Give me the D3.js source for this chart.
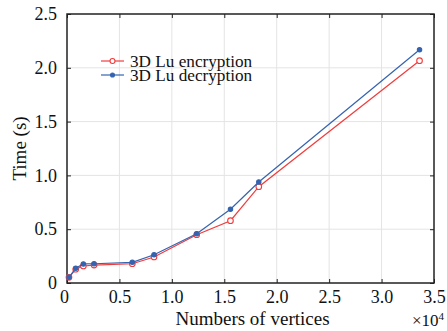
<!DOCTYPE html>
<html>
<head>
<meta charset="utf-8">
<script src="https://cdn.jsdelivr.net/npm/d3@7"></script>
<style>
  html, body { margin: 0; padding: 0; background: #fff; }
  svg { display: block; }
  text { font-family: "Liberation Serif", "Times New Roman", serif; fill: #111; }
</style>
</head>
<body>
<svg id="chart" width="447" height="331"></svg>
<script>
// Vertex counts (in units of 10^4) and timings in seconds
const vertices = [0.019, 0.083, 0.156, 0.258, 0.623, 0.830, 1.237, 1.559, 1.829, 3.362];
const encryptTime = [0.053, 0.128, 0.158, 0.167, 0.179, 0.242, 0.449, 0.579, 0.895, 2.066];
const decryptTime = [0.053, 0.137, 0.177, 0.179, 0.192, 0.263, 0.458, 0.685, 0.939, 2.168];
const xTicks = [0, 0.5, 1.0, 1.5, 2.0, 2.5, 3.0, 3.5];
const yTicks = [0, 0.5, 1.0, 1.5, 2.0, 2.5];
const seriesNames = ["3D Lu encryption", "3D Lu decryption"];

const svg = d3.select("#chart");
const m = { left: 67, right: 434, top: 14, bottom: 283 };

const x = d3.scaleLinear().domain([0, 3.5]).range([m.left, m.right]);
const y = d3.scaleLinear().domain([0, 2.5]).range([m.bottom, m.top]);

const fmt = d => d === 0 ? "0" : d3.format(".1f")(d);

// grid
const grid = svg.append("g");
grid.selectAll(".gx").data(xTicks.slice(1, -1)).join("line")
  .attr("x1", d => x(d)).attr("x2", d => x(d))
  .attr("y1", m.top).attr("y2", m.bottom)
  .attr("stroke", "#e4e4e4").attr("stroke-width", 1);
grid.selectAll(".gy").data(yTicks.slice(1, -1)).join("line")
  .attr("x1", m.left).attr("x2", m.right)
  .attr("y1", d => y(d)).attr("y2", d => y(d))
  .attr("stroke", "#e4e4e4").attr("stroke-width", 1);

// axes with inward ticks
const xAxis = svg.append("g").attr("transform", `translate(0,${m.bottom})`)
  .call(d3.axisBottom(x).tickValues(xTicks).tickFormat(fmt).tickSizeInner(-4).tickSizeOuter(0).tickPadding(7));
const yAxis = svg.append("g").attr("transform", `translate(${m.left},0)`)
  .call(d3.axisLeft(y).tickValues(yTicks).tickFormat(fmt).tickSizeInner(-4).tickSizeOuter(0).tickPadding(10));
svg.append("g").attr("transform", `translate(${m.right},0)`)
  .call(d3.axisRight(y).tickValues(yTicks).tickFormat("").tickSizeInner(-4).tickSizeOuter(0));
svg.append("g").attr("transform", `translate(0,${m.top})`)
  .call(d3.axisTop(x).tickValues(xTicks).tickFormat("").tickSizeInner(-4).tickSizeOuter(0));

svg.selectAll(".domain").remove();
svg.selectAll(".tick line").attr("stroke", "#222");
[xAxis, yAxis].forEach(a => a.selectAll("text")
  .style("font-family", "'Liberation Serif', serif").style("font-size", "18px").attr("fill", "#111"));
// the zero on the x axis sits a little left of its tick
xAxis.selectAll(".tick").filter(d => d === 0).select("text").attr("dx", -3);

// frame
svg.append("rect")
  .attr("x", m.left).attr("y", m.top)
  .attr("width", m.right - m.left).attr("height", m.bottom - m.top)
  .attr("fill", "none").attr("stroke", "#222").attr("stroke-width", 1.5);

// series
const series = [
  { name: seriesNames[0], values: encryptTime, color: "#f23b3b", open: true },
  { name: seriesNames[1], values: decryptTime, color: "#3463b0", open: false }
];
const line = d3.line().x((d, i) => x(vertices[i])).y(d => y(d));

series.forEach(s => {
  svg.append("path").datum(s.values)
    .attr("d", line).attr("fill", "none")
    .attr("stroke", s.color).attr("stroke-width", 1.2);
  svg.append("g").selectAll("circle").data(s.values).join("circle")
    .attr("cx", (d, i) => x(vertices[i])).attr("cy", d => y(d))
    .attr("r", s.open ? 2.8 : 2.2)
    .attr("fill", s.open ? "#fff" : s.color)
    .attr("stroke", s.color).attr("stroke-width", 1.1);
});

// legend
const legend = svg.append("g");
series.forEach((s, i) => {
  const ly = 61 + i * 14;
  legend.append("line").attr("x1", 101).attr("x2", 124).attr("y1", ly).attr("y2", ly)
    .attr("stroke", s.color).attr("stroke-width", 1.2);
  legend.append("circle").attr("cx", 112.5).attr("cy", ly)
    .attr("r", s.open ? 2.5 : 2)
    .attr("fill", s.open ? "#fff" : s.color)
    .attr("stroke", s.color).attr("stroke-width", 1.1);
  legend.append("text").attr("x", 130).attr("y", ly + 5.5)
    .style("font-size", "17.2px").text(s.name);
});

// axis titles
svg.append("text").attr("x", 252.5).attr("y", 325)
  .attr("text-anchor", "middle").style("font-size", "19px").text("Numbers of vertices");
svg.append("text").attr("transform", `translate(26,${(m.top + m.bottom) / 2}) rotate(-90)`)
  .attr("text-anchor", "middle").style("font-size", "19px").text("Time (s)");

// exponent marker
const mult = svg.append("text").attr("x", 412).attr("y", 326).style("font-size", "17px");
mult.append("tspan").text("×10");
mult.append("tspan").attr("dy", -6).style("font-size", "11px").text("4");
</script>
</body>
</html>
